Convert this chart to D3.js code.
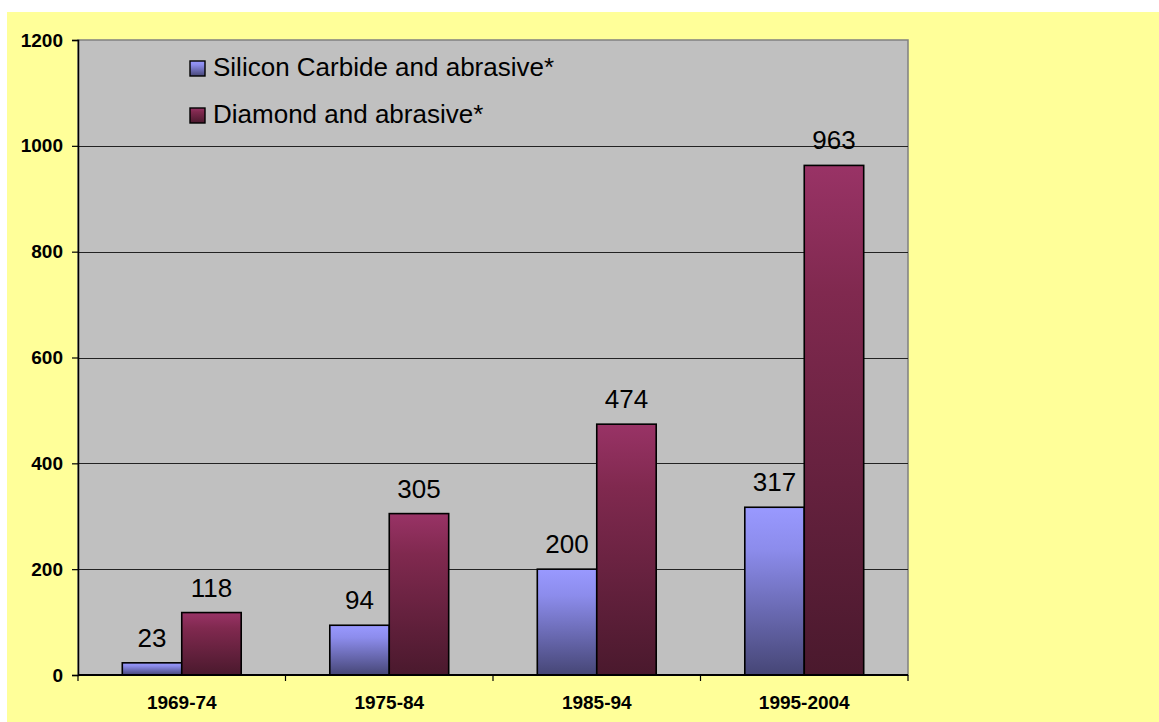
<!DOCTYPE html>
<html>
<head>
<meta charset="utf-8">
<script src="https://cdn.jsdelivr.net/npm/d3@7"></script>
<style>
  html, body { margin: 0; padding: 0; background: #ffffff; }
  svg { display: block; font-family: "Liberation Sans", Arial, sans-serif; }
</style>
</head>
<body>
<svg id="chart" width="1159" height="722"></svg>
<script>
// Periods on the category axis
const periods = ["1969-74", "1975-84", "1985-94", "1995-2004"];
// Series names
const seriesNames = ["Silicon Carbide and abrasive*", "Diamond and abrasive*"];
// Values per series, in period order
const siliconCarbide = [23, 94, 200, 317];
const diamond = [118, 305, 474, 963];
// Value-axis ticks
const yTicks = [0, 200, 400, 600, 800, 1000, 1200];

const seriesValues = [siliconCarbide, diamond];
const gradients = [
  { id: "gradBlue", top: "#9999ff", mid: "#8c8cec", bottom: "#464676" },
  { id: "gradWine", top: "#993366", mid: "#80294f", bottom: "#4a192d" }
];

const svg = d3.select("#chart");

// Chart background
svg.append("rect")
  .attr("x", 7).attr("y", 12)
  .attr("width", 1152).attr("height", 710)
  .attr("fill", "#ffff99");

const plot = { left: 78, top: 40, right: 908, bottom: 675 };

const x = d3.scaleBand()
  .domain(periods)
  .range([plot.left, plot.right]);

const xInner = d3.scaleBand()
  .domain(d3.range(seriesNames.length))
  .range([0, x.bandwidth()])
  .paddingOuter(0.745);

const y = d3.scaleLinear()
  .domain([0, 1200])
  .range([plot.bottom, plot.top]);

// Vertical gradients for the bars
const defs = svg.append("defs");
gradients.forEach(g => {
  const lg = defs.append("linearGradient")
    .attr("id", g.id)
    .attr("x1", 0).attr("y1", 0).attr("x2", 0).attr("y2", 1);
  lg.append("stop").attr("offset", "0%").attr("stop-color", g.top);
  lg.append("stop").attr("offset", "25%").attr("stop-color", g.mid);
  lg.append("stop").attr("offset", "100%").attr("stop-color", g.bottom);
});

// Plot area
svg.append("rect")
  .attr("x", plot.left).attr("y", plot.top)
  .attr("width", plot.right - plot.left).attr("height", plot.bottom - plot.top)
  .attr("fill", "#c0c0c0")
  .attr("stroke", "#808080")
  .attr("stroke-width", 1.5);

// Horizontal gridlines
svg.append("g")
  .selectAll("line")
  .data(yTicks.filter(t => t > 0 && t < 1200))
  .join("line")
  .attr("x1", plot.left).attr("x2", plot.right)
  .attr("y1", d => Math.round(y(d)) + 0.5).attr("y2", d => Math.round(y(d)) + 0.5)
  .attr("stroke", "#222")
  .attr("stroke-width", 1);

// Y axis
const yAxis = svg.append("g")
  .attr("transform", `translate(${plot.left},0)`)
  .call(d3.axisLeft(y).tickValues(yTicks).tickSize(6).tickPadding(9).tickFormat(d3.format("d")));
yAxis.select(".domain").attr("stroke", "#000").attr("stroke-width", 1.5);
yAxis.selectAll(".tick line").attr("stroke", "#000").attr("stroke-width", 1.2);
yAxis.selectAll(".tick text")
  .attr("font-family", "'Liberation Sans', Arial, sans-serif")
  .attr("font-size", 19)
  .attr("font-weight", "bold")
  .attr("fill", "#000");

// Bars
const groups = svg.append("g")
  .selectAll("g")
  .data(periods)
  .join("g")
  .attr("transform", d => `translate(${x(d)},0)`);

groups.selectAll("rect")
  .data((p, i) => seriesValues.map((vals, s) => ({ s, v: vals[i] })))
  .join("rect")
  .attr("x", d => xInner(d.s))
  .attr("width", xInner.bandwidth())
  .attr("y", d => y(d.v))
  .attr("height", d => y(0) - y(d.v))
  .attr("fill", d => `url(#${gradients[d.s].id})`)
  .attr("stroke", "#000")
  .attr("stroke-width", 1.6);

// Value labels
groups.selectAll("text")
  .data((p, i) => seriesValues.map((vals, s) => ({ s, v: vals[i] })))
  .join("text")
  .attr("x", d => xInner(d.s) + xInner.bandwidth() / 2)
  .attr("y", d => y(d.v) - 16)
  .attr("text-anchor", "middle")
  .attr("font-size", 26)
  .attr("fill", "#000")
  .text(d => d.v);

// X axis with ticks at category boundaries
const xAxisG = svg.append("g");
xAxisG.append("line")
  .attr("x1", plot.left).attr("x2", plot.right)
  .attr("y1", plot.bottom).attr("y2", plot.bottom)
  .attr("stroke", "#000").attr("stroke-width", 2);
const boundaries = periods.map(p => x(p)).concat([x(periods[periods.length - 1]) + x.bandwidth()]);
xAxisG.selectAll("line.tk")
  .data(boundaries)
  .join("line")
  .attr("class", "tk")
  .attr("x1", d => d).attr("x2", d => d)
  .attr("y1", plot.bottom).attr("y2", plot.bottom + 6)
  .attr("stroke", "#000").attr("stroke-width", 1.2);
xAxisG.selectAll("text")
  .data(periods)
  .join("text")
  .attr("x", d => x(d) + x.bandwidth() / 2)
  .attr("y", 709)
  .attr("text-anchor", "middle")
  .attr("font-size", 19)
  .attr("font-weight", "bold")
  .attr("fill", "#000")
  .text(d => d);

// Legend
const legend = svg.append("g").attr("transform", "translate(190,61)");
const li = legend.selectAll("g")
  .data(seriesNames)
  .join("g")
  .attr("transform", (d, i) => `translate(0,${i * 47})`);
li.append("rect")
  .attr("width", 15).attr("height", 15)
  .attr("fill", (d, i) => `url(#${gradients[i].id})`)
  .attr("stroke", "#000").attr("stroke-width", 1.4);
li.append("text")
  .attr("x", 23).attr("y", 15)
  .attr("font-size", 26)
  .attr("fill", "#000")
  .text(d => d);
</script>
</body>
</html>
